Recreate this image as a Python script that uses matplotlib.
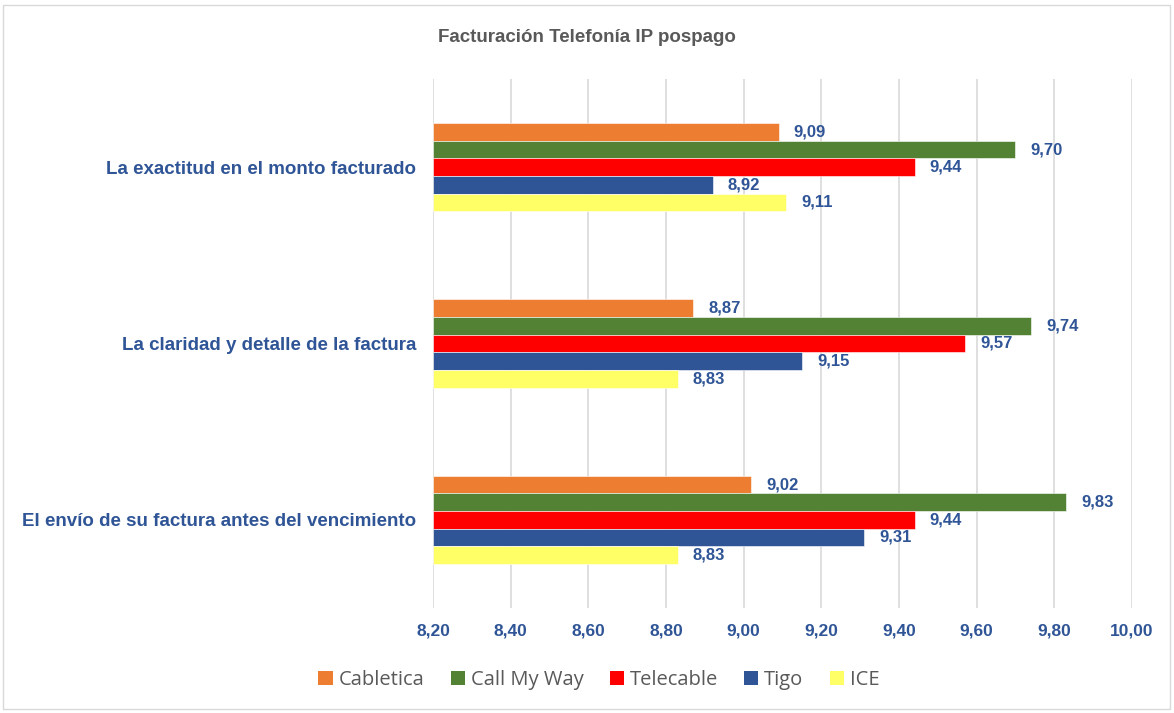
import matplotlib
matplotlib.use("Agg")
import matplotlib.pyplot as plt
from matplotlib.patches import Rectangle, Patch
import numpy as np

categories = ["La exactitud en el monto facturado",
              "La claridad y detalle de la factura",
              "El envío de su factura antes del vencimiento"]
series = ["Cabletica", "Call My Way", "Telecable", "Tigo", "ICE"]
cabletica = [9.09, 8.87, 9.02]
callmyway = [9.70, 9.74, 9.83]
telecable = [9.44, 9.57, 9.44]
tigo = [8.92, 9.15, 9.31]
ice = [9.11, 8.83, 8.83]
values = [cabletica, callmyway, telecable, tigo, ice]
colors = ["#ED7D31", "#548235", "#FF0000", "#2F5597", "#FFFF66"]
xticks = [8.2, 8.4, 8.6, 8.8, 9.0, 9.2, 9.4, 9.6, 9.8, 10.0]

blue = "#2F5597"
fig = plt.figure(figsize=(11.74, 7.13), dpi=100)
ax = fig.add_axes([433/1174, 1-608/713, (1132-433)/1174, (608-79)/713])

base = 8.2
bh = 0.1
for i, (name, vals, c) in enumerate(zip(series, values, colors)):
    for j, v in enumerate(vals):
        y = j + (i - 2) * bh
        ax.barh(y, v - base, left=base, height=bh, color=c,
                edgecolor="white", linewidth=0.4, zorder=3)
        ax.annotate(f"{v:.2f}".replace(".", ","), (v, y), xytext=(15, 0),
                    textcoords="offset pixels", ha="left", va="center",
                    fontsize=12, fontweight="bold", color=blue,
                    family="Liberation Sans")

ax.set_xlim(8.2, 10.0)
ax.set_ylim(2.5, -0.5)
ax.set_xticks(xticks)
ax.set_xticklabels([f"{t:.2f}".replace(".", ",") for t in xticks],
                   fontsize=12.5, fontweight="bold", color=blue, family="Liberation Sans")
ax.set_yticks(range(len(categories)))
ax.set_yticklabels(categories, fontsize=13.5, fontweight="bold", color=blue,
                   family="Liberation Sans")
ax.tick_params(axis="both", length=0)
ax.tick_params(axis="x", pad=11)
ax.tick_params(axis="y", pad=12)
for s in ax.spines.values():
    s.set_visible(False)
ax.grid(axis="x", color="#D9D9D9", linewidth=1.2, zorder=0)
ax.set_axisbelow(True)

fig.text(0.5, 1-37/713, "Facturación Telefonía IP pospago", ha="center", va="center",
         fontsize=13.5, fontweight="bold", color="#595959", family="Liberation Sans")

handles = [Patch(facecolor=c, edgecolor="none") for c in colors]
fig.legend(handles, series, loc="center", bbox_to_anchor=(599/1174, 1-680/713),
           ncol=5, frameon=False, prop={"family": "Open Sans", "size": 14.5},
           labelcolor="#595959", handlelength=0.7, handleheight=0.7,
           handletextpad=0.3, columnspacing=1.3)

fig.patches.append(Rectangle((3/1174, 4/713), 1167/1174, 704/713, transform=fig.transFigure,
                             fill=False, edgecolor="#D9D9D9", linewidth=1))

fig.savefig("out.png", dpi=100)
